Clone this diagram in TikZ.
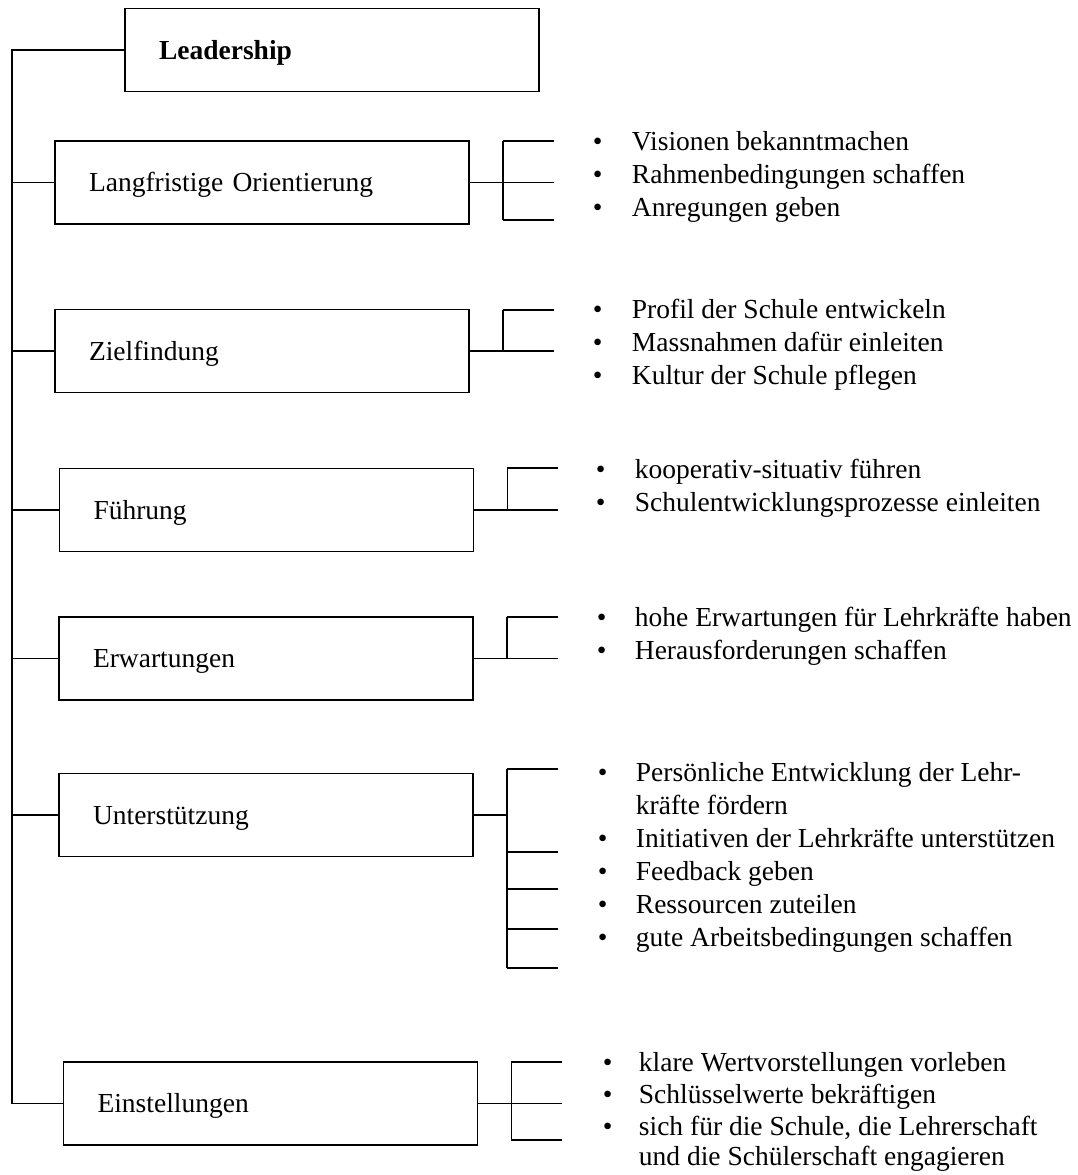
\documentclass[tikz,border=0pt]{standalone}
\usepackage{fontspec}
\setmainfont{Liberation Serif}
\usetikzlibrary{calc}
\newcommand{\itemfont}{\fontsize{27.5}{33}\selectfont}
\begin{document}
\begin{tikzpicture}[x=1pt,y=-1pt,line width=1.9pt,
    box/.style={draw,minimum width=414pt,minimum height=83pt,inner xsep=34pt,
      text width=346pt,text height=18pt,text depth=0pt,align=left,font=\itemfont},
    item/.style={anchor=base west,inner sep=0pt,font=\itemfont}]
  \useasboundingbox (0,0) rectangle (1078,1175);
  % boxes
  \node[box] (lead) at (332,50) {\textbf{Leadership}};
  \node[box] (lang) at (262,182.5) {Langfristige Orientierung};
  \node[box] (ziel) at (262,351) {Zielfindung};
  \node[box] (fuehr) at (266.5,510) {Führung};
  \node[box] (erw) at (266,658.5) {Erwartungen};
  \node[box] (unter) at (266,815) {Unterstützung};
  \node[box] (einst) at (270.5,1103.5) {Einstellungen};
  % line on the left
  \coordinate (spine) at (12,0);
  \draw (lead.west) -- (lead.west -| spine) -- (einst.west -| spine) -- (einst.west);
  \foreach \b in {lang,ziel,fuehr,erw,unter}
    \draw (\b.west -| spine) -- (\b.west);
  % brackets
  \foreach \b/\t/\e/\arms in {lang/-41.5/37.5/{-41.5,0,37.5},ziel/-41/0/{-41,0},
      fuehr/-42/0/{-42,0},erw/-41.5/0/{-41.5,0},unter/-46/153/{-46,37,74,114,153},
      einst/-41.5/36.5/{-41.5,0,36.5}}{
    \draw (\b.east) -- ++(33,0) coordinate (\b-br);
    \draw ($(\b-br)+(0,\t)$) -- ($(\b-br)+(0,\e)$);
    \foreach \d in \arms
      \draw ($(\b-br)+(0,\d)$) -- ++(51,0);
  }
  % items
  \foreach \t [count=\i from 0] in {Visionen bekanntmachen,Rahmenbedingungen schaffen,Anregungen geben}
    \node[item] (lang-\i) at (592,150+33*\i) {\makebox[39pt][l]{\textbullet}\t};
  \foreach \t [count=\i from 0] in {Profil der Schule entwickeln,Massnahmen dafür einleiten,Kultur der Schule pflegen}
    \node[item] (ziel-\i) at (592,318+33*\i) {\makebox[39pt][l]{\textbullet}\t};
  \foreach \t [count=\i from 0] in {kooperativ-situativ führen,Schulentwicklungsprozesse einleiten}
    \node[item] (fuehr-\i) at (595,478+33*\i) {\makebox[39pt][l]{\textbullet}\t};
  \foreach \t [count=\i from 0] in {hohe Erwartungen für Lehrkräfte haben,Herausforderungen schaffen}
    \node[item] (erw-\i) at (596,626+33*\i) {\makebox[38pt][l]{\textbullet}\t};
  \node[item] (unter-0) at (597,781) {\makebox[38pt][l]{\textbullet}Persönliche Entwicklung der Lehr-};
  \node[item] (unter-0b) at (635,814) {kräfte fördern};
  \foreach \t [count=\i] in {Initiativen der Lehrkräfte unterstützen,Feedback geben,Ressourcen zuteilen,gute Arbeitsbedingungen schaffen}
    \node[item] (unter-\i) at (597,814+33*\i) {\makebox[38pt][l]{\textbullet}\t};
  \foreach \t [count=\i from 0] in {klare Wertvorstellungen vorleben,Schlüsselwerte bekräftigen,{sich für die Schule, die Lehrerschaft}}
    \node[item] (einst-\i) at (602,1071+32*\i) {\makebox[36pt][l]{\textbullet}\t};
  \node[item] (einst-2b) at (638,1165) {und die Schülerschaft engagieren};
\end{tikzpicture}
\end{document}
